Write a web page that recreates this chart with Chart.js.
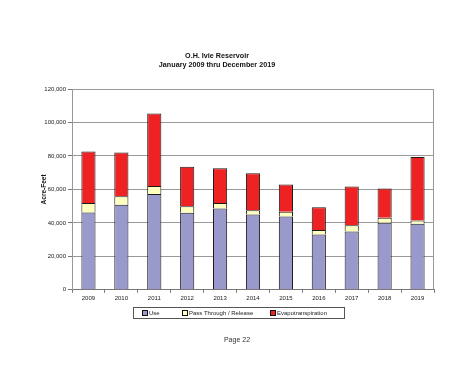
<!DOCTYPE html>
<html>
<head>
<meta charset="utf-8">
<script src="https://cdn.jsdelivr.net/npm/chart.js@4.4.0/dist/chart.umd.min.js"></script>
<style>
    body { margin: 0; background: #fff; font-family: "Liberation Sans", Arial, sans-serif; }
    #wrap { position: relative; width: 474px; height: 366px; }
    #legend {
        position: absolute; left: 133px; top: 307px; width: 210px; height: 10px;
        border: 1px solid #555; font-size: 6px; color: #222; line-height: 10px;
    }
    #legend span.item { position: absolute; top: 0; white-space: nowrap; }
    #legend i {
        display: inline-block; width: 4px; height: 4px; border: 1px solid #111;
        margin-right: 1px; vertical-align: -1px;
    }
    #page { position: absolute; left: 0; width: 474px; top: 336px; text-align: center; font-size: 7px; color: #333; }
</style>
</head>
<body>
<div id="wrap">
    <canvas id="reservoirChart" width="474" height="366"></canvas>
    <div id="legend">
        <span class="item" style="left:8px"><i style="background:#9999cc"></i>Use</span>
        <span class="item" style="left:48px"><i style="background:#ffffc0"></i>Pass Through / Release</span>
        <span class="item" style="left:136px"><i style="background:#ee2222"></i>Evapotranspiration</span>
    </div>
    <div id="page">Page 22</div>
</div>
<script>
// Chart data (acre-feet)
var years = ['2009', '2010', '2011', '2012', '2013', '2014', '2015', '2016', '2017', '2018', '2019'];
var useValues = [46200, 50900, 57300, 46000, 48600, 45000, 43800, 33000, 34800, 40000, 39400];
var passThroughValues = [5700, 5000, 4800, 4000, 3200, 2600, 2800, 2800, 3800, 3000, 2000];
var evapValues = [30700, 26100, 43200, 23600, 20900, 22100, 16300, 13500, 23100, 17500, 38000];
var yTicks = [0, 20000, 40000, 60000, 80000, 100000, 120000];

// Draws the grey box around the plot area and the rotated axis title
var plotFrame = {
    id: 'plotFrame',
    afterDraw: function (chart) {
        var ctx = chart.ctx;
        var area = chart.chartArea;
        ctx.save();
        ctx.strokeStyle = '#999';
        ctx.lineWidth = 1;
        ctx.beginPath();
        ctx.moveTo(area.left, area.top + 0.5);
        ctx.lineTo(area.right - 0.5, area.top + 0.5);
        ctx.lineTo(area.right - 0.5, area.bottom);
        ctx.stroke();

        ctx.translate(44, (area.top + area.bottom) / 2);
        ctx.rotate(-Math.PI / 2);
        ctx.fillStyle = '#111';
        ctx.font = 'bold 6.5px "Liberation Sans", Arial, sans-serif';
        ctx.textAlign = 'center';
        ctx.textBaseline = 'middle';
        ctx.fillText('Acre-Feet', 0, 0);
        ctx.restore();
    }
};

function makeDataset(label, values, color) {
    return {
        label: label,
        data: values,
        backgroundColor: color,
        borderColor: '#1a1a1a',
        // no bottom edge, so stacked segments share a single 1px line
        borderWidth: { top: 1, left: 1, right: 1, bottom: 0 },
        borderSkipped: false,
        categoryPercentage: 1,
        barPercentage: 0.43
    };
}

var tickFont = { family: '"Liberation Sans", Arial, sans-serif', size: 6 };

var ctx = document.getElementById('reservoirChart').getContext('2d');
var reservoirChart = new Chart(ctx, {
    type: 'bar',
    data: {
        labels: years,
        datasets: [
            makeDataset('Use', useValues, '#9999cc'),
            makeDataset('Pass Through / Release', passThroughValues, '#ffffc0'),
            makeDataset('Evapotranspiration', evapValues, '#ee2222')
        ]
    },
    plugins: [plotFrame],
    options: {
        responsive: false,
        animation: false,
        layout: { padding: { left: 0, right: 40, top: 0, bottom: 62 } },
        plugins: {
            legend: { display: false },
            tooltip: { enabled: false },
            title: {
                display: true,
                text: ['O.H. Ivie Reservoir', 'January 2009 thru December 2019'],
                color: '#111',
                font: { family: '"Liberation Sans", Arial, sans-serif', size: 7.2, weight: 'bold', lineHeight: 1.25 },
                padding: { top: 52, bottom: 19 }
            }
        },
        scales: {
            x: {
                stacked: true,
                offset: true,
                grid: {
                    offset: true,
                    drawOnChartArea: false,
                    drawTicks: true,
                    tickLength: 3,
                    color: '#777'
                },
                border: { color: '#777' },
                ticks: {
                    color: '#222',
                    padding: 2,
                    maxRotation: 0,
                    font: tickFont
                }
            },
            y: {
                stacked: true,
                min: 0,
                max: 120000,
                afterFit: function (scale) { scale.width = 72; },
                afterBuildTicks: function (scale) {
                    scale.ticks = yTicks.map(function (v) { return { value: v }; });
                },
                grid: { color: '#999', tickLength: 4, tickColor: '#777' },
                border: { color: '#999' },
                ticks: {
                    color: '#222',
                    padding: 2,
                    font: tickFont,
                    callback: function (value) { return value.toLocaleString('en-US'); }
                }
            }
        }
    }
});
</script>
</body>
</html>
